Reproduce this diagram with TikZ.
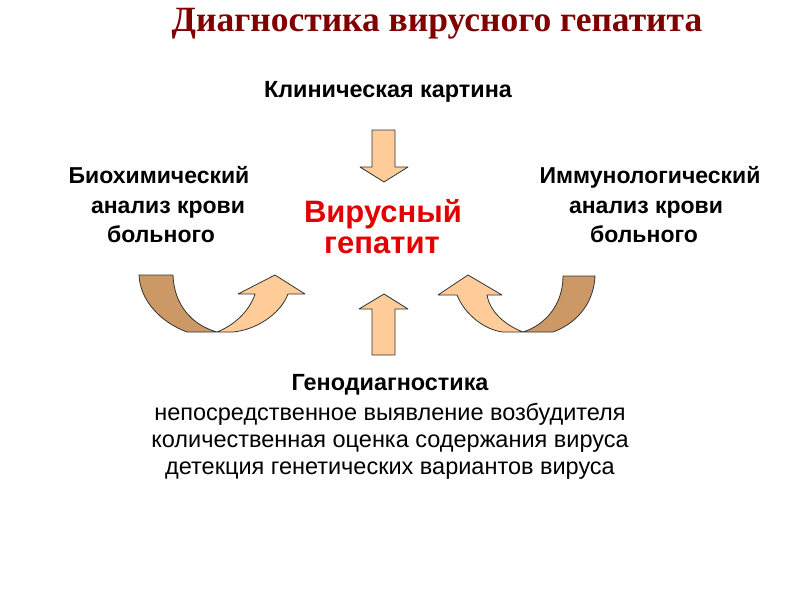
\documentclass[tikz,border=0pt]{standalone}
\usepackage{fontspec}
\setmainfont{Liberation Sans}
\newfontfamily\titlefont{Liberation Serif}
\definecolor{titlered}{RGB}{128,0,0}
\definecolor{mainred}{RGB}{228,0,0}
\definecolor{peach}{RGB}{255,204,153}
\definecolor{tan}{RGB}{204,153,102}
\begin{document}
\begin{tikzpicture}[x=1pt,y=-1pt,
  txt/.style={inner sep=0pt,anchor=base},
  bold/.style={txt,font=\fontsize{23.4}{27}\selectfont\bfseries},
  side/.style={txt,font=\fontsize{23}{27}\selectfont\bfseries},
  reg/.style={txt,font=\fontsize{23.5}{27}\selectfont},
  light/.style={fill=peach,draw=black!80,line width=0.8pt,line join=round},
  dark/.style={fill=tan,draw=black!80,line width=0.8pt,line join=round}]
\useasboundingbox (0,0) rectangle (800,600);
% title
\node[txt,font=\titlefont\fontsize{35.5}{40}\selectfont\bfseries,text=titlered] (title) at (437,31) {Диагностика вирусного гепатита};
% top label
\node[bold] (clin) at (388,97) {Клиническая картина};
% left block
\node[side] (bio1) at (159,183) {Биохимический};
\node[side] (bio2) at (168,213) {анализ крови};
\node[side] (bio3) at (161,242) {больного};
% right block
\node[side] (imm1) at (650,183) {Иммунологический};
\node[side] (imm2) at (646,213) {анализ крови};
\node[side] (imm3) at (644,242) {больного};
% centre
\node[txt,font=\fontsize{31}{36}\selectfont\bfseries,text=mainred] (vir1) at (383,222) {Вирусный};
\node[txt,font=\fontsize{31}{36}\selectfont\bfseries,text=mainred] (vir2) at (382,253) {гепатит};
% bottom
\node[bold] (gen) at (390,390) {Генодиагностика};
\node[reg] (g1) at (390,420) {непосредственное выявление возбудителя};
\node[reg] (g2) at (390,447) {количественная оценка содержания вируса};
\node[reg] (g3) at (390,474) {детекция генетических вариантов вируса};
% down arrow
\draw[light] (372,130) -- (395,130) -- (395,167) -- (408,167) -- (384,182) -- (360,167) -- (372,167) -- cycle;
% up arrow
\draw[light] (384,294) -- (408,309) -- (395,309) -- (395,355) -- (372,355) -- (372,309) -- (359,309) -- cycle;
% left curved arrow
\draw[dark] (139,275) -- (173,275) .. controls (174,305) and (192,325) .. (217,332) -- (187,332) .. controls (160,322) and (140,300) .. (139,275) -- cycle;
\draw[light] (217,332) .. controls (235,325) and (250,310) .. (255,294) -- (238,294) -- (275,275) -- (305,294) -- (288,294) .. controls (280,315) and (255,330) .. (233,332) -- cycle;
% right curved arrow
\draw[dark] (595,276) -- (563,276) .. controls (563,305) and (545,325) .. (523,332) -- (553,332) .. controls (580,322) and (594,300) .. (595,276) -- cycle;
\draw[light] (523,332) .. controls (505,325) and (490,312) .. (487,295) -- (502,295) -- (468,275) -- (438,295) -- (457,295) .. controls (465,315) and (485,330) .. (503,332) -- cycle;
\end{tikzpicture}
\end{document}
